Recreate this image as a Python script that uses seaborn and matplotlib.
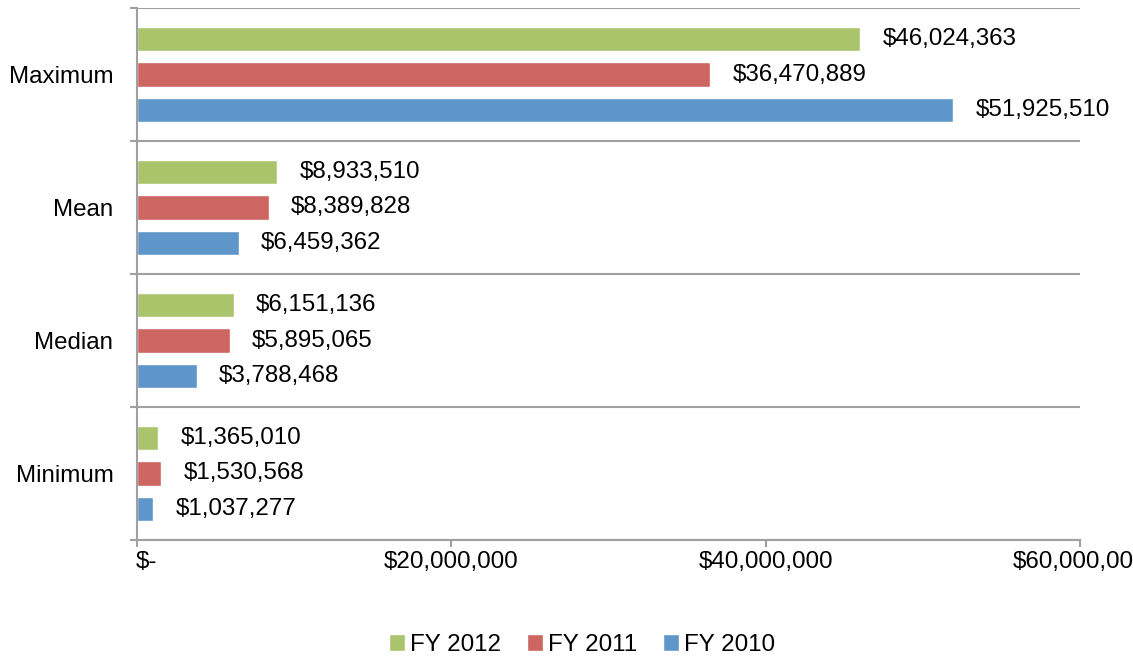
import matplotlib
matplotlib.use("Agg")
import matplotlib.pyplot as plt
import matplotlib.transforms as mtransforms
import seaborn as sns
import pandas as pd

categories = ["Maximum", "Mean", "Median", "Minimum"]
series = ["FY 2012", "FY 2011", "FY 2010"]
fy2012 = [46024363, 8933510, 6151136, 1365010]
fy2011 = [36470889, 8389828, 5895065, 1530568]
fy2010 = [51925510, 6459362, 3788468, 1037277]
xticks = [0, 20000000, 40000000, 60000000]
xticklabels = ["$-", "$20,000,000", "$40,000,000", "$60,000,000"]
colors = ["#AAC46C", "#CD6560", "#5F96CA"]

rows = []
for s, vals in zip(series, [fy2012, fy2011, fy2010]):
    for c, v in zip(categories, vals):
        rows.append({"Category": c, "Series": s, "Value": v})
df = pd.DataFrame(rows)

sns.set_theme(style="white")
plt.rcParams["font.family"] = ["Liberation Sans", "DejaVu Sans"]
plt.rcParams["text.color"] = "black"
plt.rcParams["xtick.labelcolor"] = "black"
plt.rcParams["ytick.labelcolor"] = "black"

FS = 17.4
fig = plt.figure(figsize=(11.33, 6.57), dpi=100)
ax = fig.add_axes([137/1133, 1 - 540/657, (1080-137)/1133, (540-8)/657])

sns.barplot(data=df, y="Category", x="Value", hue="Series", order=categories,
            hue_order=series, palette=colors, orient="h", width=0.81, gap=0.33,
            saturation=1, ax=ax, legend=True, errorbar=None)

for cont in ax.containers:
    ax.bar_label(cont, labels=[f"${v:,.0f}" for v in cont.datavalues],
                 padding=16, fontsize=FS, color="black")

ax.set_xlim(0, 60000000)
ax.set_ylim(3.5, -0.5)
ax.set_xlabel("")
ax.set_ylabel("")

gray = "#A0A0A0"
for side in ["top", "right"]:
    ax.spines[side].set_visible(False)
for side in ["left", "bottom"]:
    ax.spines[side].set_color(gray)
    ax.spines[side].set_linewidth(1.5)

ax.set_yticks(range(len(categories)))
ax.set_yticklabels(categories, fontsize=FS, color="black")
ax.set_yticks([-0.5, 0.5, 1.5, 2.5, 3.5], minor=True)
ax.tick_params(axis="y", which="major", length=0, pad=17)
ax.tick_params(axis="y", which="minor", length=5, width=1.5, color=gray, direction="out", left=True)
ax.yaxis.grid(True, which="minor", color=gray, linewidth=1.5)
ax.yaxis.grid(False, which="major")
ax.xaxis.grid(False)

ax.set_xticks(xticks)
ax.set_xticklabels(xticklabels, fontsize=FS, color="black")
ax.tick_params(axis="x", length=5, width=1.5, color=gray, direction="out", bottom=True, pad=3)
off = mtransforms.ScaledTranslation(9/100, 0, fig.dpi_scale_trans)
lbl = ax.get_xticklabels()[0]
lbl.set_transform(lbl.get_transform() + off)

handles, labels = ax.get_legend_handles_labels()
ax.legend_.remove()
leg = fig.legend(handles, labels, loc="center", bbox_to_anchor=(582/1133, 1 - 645/657),
                 ncol=3, frameon=False, fontsize=FS, handlelength=0.65, handleheight=0.65,
                 handletextpad=0.2, columnspacing=1.1, borderaxespad=0)
for t in leg.get_texts():
    t.set_color("black")

fig.savefig("out.png", dpi=100)
